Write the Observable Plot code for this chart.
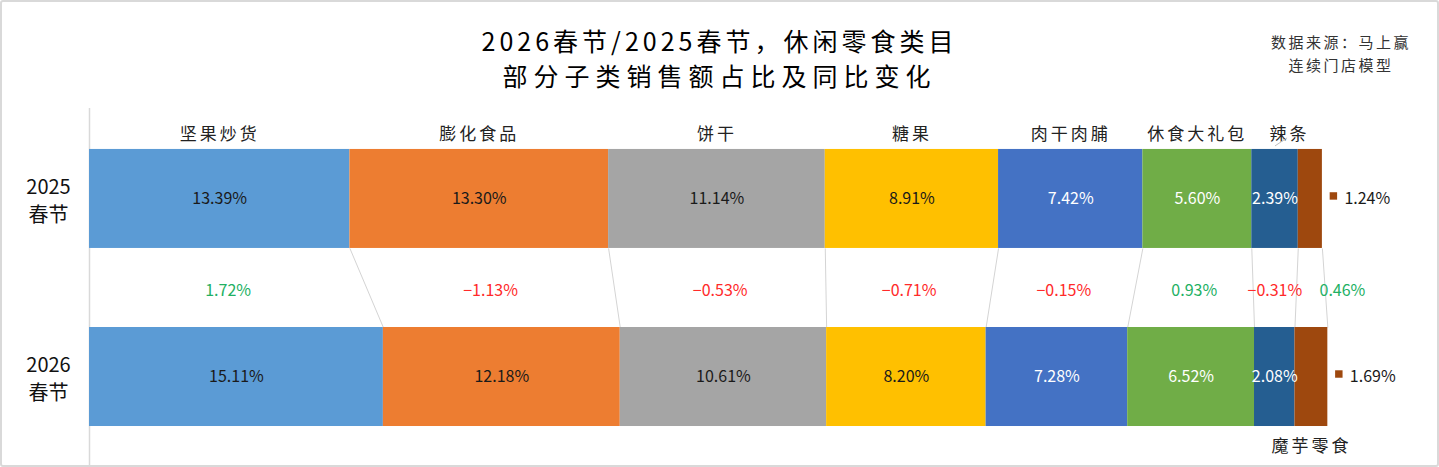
<!DOCTYPE html>
<html><head><meta charset="utf-8">
<script src="https://cdn.jsdelivr.net/npm/d3@7"></script>
<script src="https://cdn.jsdelivr.net/npm/@observablehq/plot@0.6"></script>
<style>
body{margin:0;background:#fff;font-family:"Noto Sans CJK SC",sans-serif;}
#wrap{position:relative;width:1439px;height:467px;overflow:hidden;background:#fff}
#frame{position:absolute;left:0;top:0;right:0;bottom:0;border:2px solid #d9d9d9;border-radius:3px;pointer-events:none}
.tl{position:absolute;left:0;width:1439px;text-align:center;font-size:25px;line-height:30px;height:30px;color:#000;letter-spacing:4px}
#t1{top:25px}
#t2{top:60px;letter-spacing:6px}
.src{position:absolute;left:1266px;width:150px;text-align:center;font-size:15px;line-height:20px;color:#333;letter-spacing:2.5px}
#s1{top:32px}
#s2{top:55px}
#chart{position:absolute;left:0;top:0}
.cat text{letter-spacing:3px}
</style></head>
<body>
<div id="wrap">
  <div id="chart"></div>
  <div class="tl" id="t1">2026春节/2025春节，休闲零食类目</div>
  <div class="tl" id="t2">部分子类销售额占比及同比变化</div>
  <div class="src" id="s1">数据来源：马上赢</div>
  <div class="src" id="s2">连续门店模型</div>
  <div id="frame"></div>
</div>
<script>
const categories = ["坚果炒货","膨化食品","饼干","糖果","肉干肉脯","休食大礼包","辣条","魔芋零食"];
const share2025 = [13.39,13.30,11.14,8.91,7.42,5.60,2.39,1.24];
const share2026 = [15.11,12.18,10.61,8.20,7.28,6.52,2.08,1.69];
const change = [1.72,-1.13,-0.53,-0.71,-0.15,0.93,-0.31,0.46];
const periods = ["2025春节","2026春节"];
const colors = ["#5B9BD5","#ED7D31","#A5A5A5","#FFC000","#4472C4","#70AD47","#255E91","#9E480E"];
const labelDark = [true,true,true,true,false,false,false,false];

const shares = [share2025, share2026];
const half = 0.278;
const nudge = 0.75;
const segs = [];
periods.forEach((p,i)=>{
  let acc = 0;
  categories.forEach((c,j)=>{
    const v = shares[i][j];
    segs.push({period:p,row:i,cat:c,idx:j,value:v,x1:acc,x2:acc+v,mid:acc+v/2});
    acc += v;
  });
});
const seg = (i,j)=>segs[i*categories.length+j];
const last = categories.length-1;
const rows = periods.map((p,i)=>({row:i,label:p.slice(0,4)+"\n"+p.slice(4)}));
const links = categories.map((c,j)=>({x1:seg(0,j).x2,x2:seg(1,j).x2}));
const changes = categories.map((c,j)=>({
  idx:j, v:change[j],
  x: j===last ? Math.max(seg(0,j).x2,seg(1,j).x2)+nudge : (seg(0,j).mid+seg(1,j).mid)/2,
  text:change[j].toFixed(2).replace("-","−")+"%"
}));
const topLabels = categories.slice(0,last).map((c,j)=>({cat:c,idx:j,x:seg(0,j).mid+(j===last-1?nudge:0)}));
const fmt = v=>v.toFixed(2)+"%";
const font = "'Noto Sans CJK SC', sans-serif";

const chart = Plot.plot({
  width:1439, height:467,
  marginLeft:89, marginRight:8, marginTop:108, marginBottom:2,
  x:{domain:[0,69], axis:null},
  y:{domain:[-0.508,1.497], reverse:true, axis:null},
  style:{fontFamily:font, background:"transparent", overflow:"visible"},
  marks:[
    Plot.ruleX([0],{stroke:"#d9d9d9",strokeWidth:1.5}),
    Plot.link(links,{x1:"x1",x2:"x2",y1:()=>half,y2:()=>1-half,stroke:"#d4d4d4",strokeWidth:1}),
    Plot.rect(segs,{x1:"x1",x2:"x2",y1:d=>d.row-half,y2:d=>d.row+half,fill:d=>colors[d.idx]}),
    Plot.text(segs.filter(d=>d.idx!==last),{x:"mid",y:"row",text:d=>fmt(d.value),fontSize:16,
      fill:d=>labelDark[d.idx]?"#1a1a1a":"#ffffff"}),
    Plot.dot(segs.filter(d=>d.idx===last),{x:"x2",y:"row",symbol:"square",r:4.2,fill:d=>colors[d.idx],dx:11,dy:-3}),
    Plot.text(segs.filter(d=>d.idx===last),{x:"x2",y:"row",text:d=>fmt(d.value),fontSize:16,fill:"#1a1a1a",textAnchor:"start",dx:22}),
    Plot.text(changes,{x:"x",frameAnchor:"middle",dy:4,text:"text",fontSize:16,
      fill:d=>d.v>0?"#22B063":"#FF2A2A"}),
    Plot.text(topLabels,{x:"x",frameAnchor:"top",dy:19,text:"cat",fontSize:17,fill:"#222",className:"cat"}),
    Plot.link([seg(0,last-1)],{x1:"mid",x2:d=>d.mid+0.62,y1:()=>-half-0.02,y2:()=>-half-0.065,stroke:"#bfbfbf",strokeWidth:1}),
    Plot.text([seg(1,last)],{x:"mid",frameAnchor:"bottom",dy:-14,text:"cat",fontSize:17,fill:"#222",className:"cat"}),
    Plot.text(rows,{y:"row",frameAnchor:"left",dx:-41,textAnchor:"middle",text:"label",fontSize:20,lineHeight:1.42,fill:"#111"})
  ]
});
document.getElementById("chart").append(chart);
</script>
</body></html>
